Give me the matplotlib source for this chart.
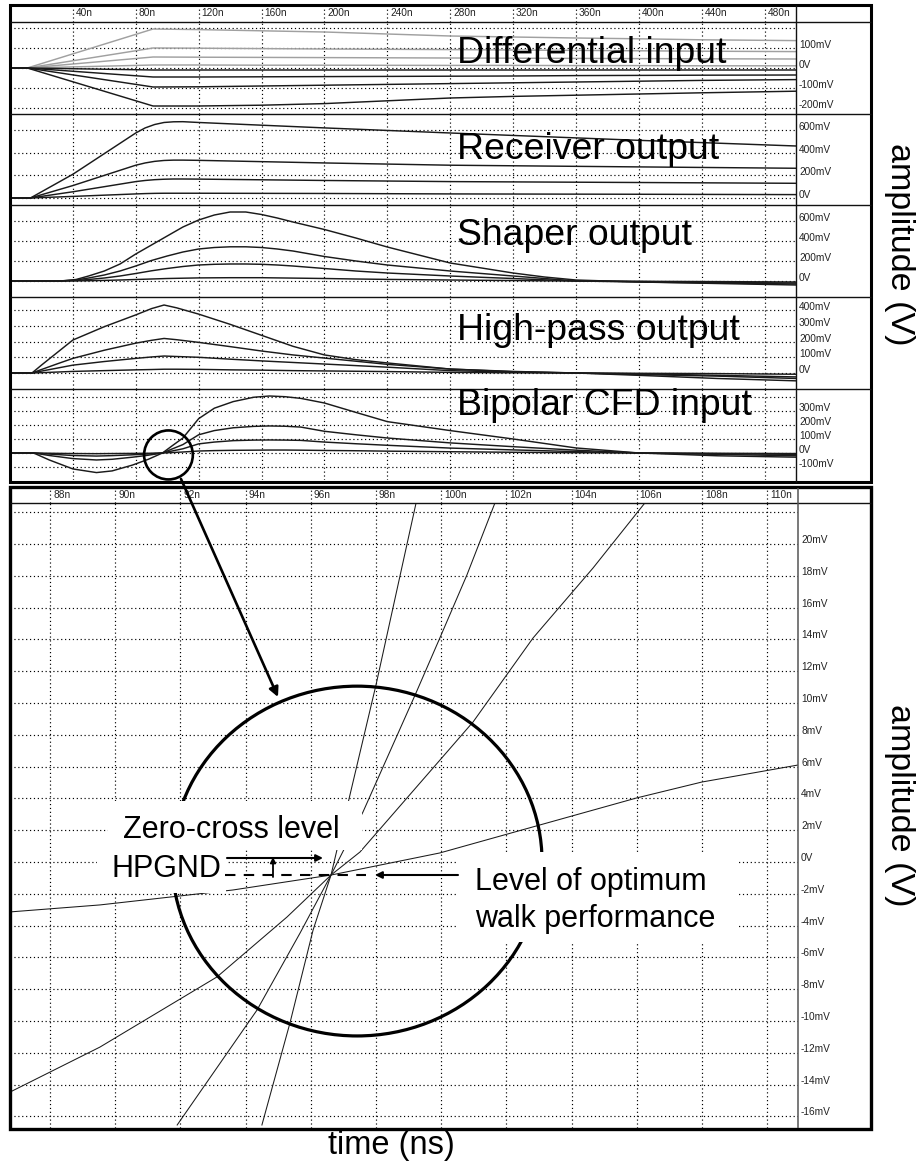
import matplotlib
matplotlib.use('Agg')
import matplotlib.pyplot as plt
from matplotlib.patches import Ellipse, Rectangle, FancyArrowPatch
from matplotlib.lines import Line2D

plt.rcParams['font.family'] = ['Liberation Sans', 'DejaVu Sans']

# ------------------------------------------------------------------ data
# overview (time in ns, amplitude in V)
top_xticks = [40, 80, 120, 160, 200, 240, 280, 320, 360, 400, 440, 480]

diff_t = [0, 11, 91, 120, 160, 200, 280, 320, 360, 400, 440, 500]
diff_pos = [
    [0, 0, 0.195, 0.192, 0.186, 0.180, 0.160, 0.155, 0.150, 0.146, 0.141, 0.137],
    [0, 0, 0.100, 0.099, 0.097, 0.095, 0.092, 0.090, 0.088, 0.086, 0.084, 0.082],
    [0, 0, 0.055, 0.054, 0.053, 0.052, 0.050, 0.049, 0.048, 0.047, 0.046, 0.045],
    [0, 0, 0.015, 0.015, 0.014, 0.014, 0.013, 0.013, 0.012, 0.012, 0.011, 0.011],
]
diff_neg = [
    [0, 0, -0.010, -0.010, -0.010, -0.010, -0.010, -0.010, -0.010, -0.010, -0.010, -0.010],
    [0, 0, -0.045, -0.045, -0.044, -0.043, -0.041, -0.040, -0.038, -0.037, -0.036, -0.035],
    [0, 0, -0.095, -0.094, -0.090, -0.086, -0.078, -0.074, -0.070, -0.066, -0.062, -0.058],
    [0, 0, -0.190, -0.190, -0.186, -0.178, -0.150, -0.142, -0.136, -0.130, -0.124, -0.116],
]

recv_t = [0, 13, 40, 80, 86, 92, 98, 104, 110, 120, 200, 280, 400, 500]
recv = [
    [0, 0, 0.210, 0.575, 0.620, 0.650, 0.668, 0.674, 0.675, 0.668, 0.620, 0.575, 0.510, 0.460],
    [0, 0, 0.110, 0.290, 0.310, 0.324, 0.332, 0.335, 0.335, 0.333, 0.310, 0.290, 0.275, 0.263],
    [0, 0, 0.055, 0.145, 0.155, 0.162, 0.166, 0.168, 0.168, 0.167, 0.155, 0.145, 0.137, 0.130],
    [0, 0, 0.014, 0.036, 0.039, 0.041, 0.042, 0.042, 0.042, 0.042, 0.040, 0.036, 0.033, 0.030],
]

shap_t = [0, 32, 42, 50, 60, 70, 80, 90, 100, 110, 120, 130, 140, 150, 160, 170, 180, 200,
          220, 240, 260, 280, 300, 320, 340, 360, 400, 450, 500]
shap = [
    [0, 0, 0.015, 0.050, 0.100, 0.170, 0.270, 0.360, 0.450, 0.540, 0.610, 0.660, 0.690, 0.690,
     0.665, 0.630, 0.590, 0.515, 0.430, 0.340, 0.260, 0.180, 0.130, 0.080, 0.040, 0.010,
     -0.010, -0.025, -0.040],
    [0, 0, 0.010, 0.030, 0.060, 0.100, 0.150, 0.205, 0.250, 0.290, 0.320, 0.335, 0.342, 0.342,
     0.335, 0.320, 0.300, 0.245, 0.200, 0.160, 0.130, 0.100, 0.075, 0.050, 0.025, 0.000,
     -0.010, -0.020, -0.030],
    [0, 0, 0.005, 0.015, 0.030, 0.050, 0.075, 0.102, 0.125, 0.145, 0.160, 0.167, 0.170, 0.170,
     0.167, 0.160, 0.150, 0.125, 0.100, 0.080, 0.065, 0.050, 0.037, 0.025, 0.012, 0.000,
     -0.005, -0.015, -0.020],
    [0, 0, 0.001, 0.003, 0.006, 0.010, 0.015, 0.020, 0.025, 0.028, 0.031, 0.032, 0.033, 0.033,
     0.033, 0.031, 0.029, 0.025, 0.020, 0.016, 0.013, 0.010, 0.007, 0.005, 0.002, 0.000,
     -0.003, -0.006, -0.010],
]

hp_t = [0, 14, 20, 30, 40, 60, 80, 90, 98, 106, 120, 140, 160, 180, 200, 220, 240, 280,
        320, 360, 400, 450, 500]
hp = [
    [0, 0, 0.050, 0.130, 0.210, 0.295, 0.370, 0.410, 0.433, 0.415, 0.375, 0.310, 0.240,
     0.170, 0.115, 0.085, 0.064, 0.025, 0.008, 0.000, -0.015, -0.035, -0.050],
    [0, 0, 0.022, 0.058, 0.093, 0.145, 0.190, 0.208, 0.220, 0.212, 0.195, 0.168, 0.140,
     0.115, 0.095, 0.075, 0.055, 0.025, 0.010, 0.000, -0.010, -0.020, -0.035],
    [0, 0, 0.012, 0.031, 0.050, 0.073, 0.093, 0.102, 0.108, 0.105, 0.100, 0.088, 0.077,
     0.067, 0.057, 0.047, 0.037, 0.015, 0.005, 0.000, -0.005, -0.015, -0.025],
    [0, 0, 0.002, 0.006, 0.010, 0.015, 0.020, 0.022, 0.024, 0.024, 0.023, 0.020, 0.018,
     0.015, 0.013, 0.011, 0.009, 0.004, 0.001, 0.000, -0.002, -0.004, -0.008],
]

bip_t = [0, 15, 25, 40, 55, 65, 78, 88, 97, 103, 110, 120, 130, 142, 155, 165, 175, 185,
         200, 220, 240, 280, 320, 360, 400, 450, 500]
bip = [
    [0, 0, -0.050, -0.114, -0.140, -0.128, -0.086, -0.045, 0.000, 0.050, 0.107, 0.245,
     0.320, 0.367, 0.398, 0.407, 0.402, 0.390, 0.357, 0.290, 0.224, 0.160, 0.100, 0.036,
     0.000, -0.020, -0.030],
    [0, 0, -0.018, -0.040, -0.050, -0.045, -0.030, -0.016, 0.000, 0.028, 0.060, 0.130,
     0.160, 0.180, 0.190, 0.193, 0.191, 0.185, 0.155, 0.130, 0.107, 0.072, 0.045, 0.020,
     0.000, -0.010, -0.020],
    [0, 0, -0.008, -0.018, -0.022, -0.019, -0.013, -0.007, 0.000, 0.014, 0.030, 0.065,
     0.078, 0.088, 0.092, 0.093, 0.092, 0.090, 0.078, 0.066, 0.055, 0.035, 0.022, 0.010,
     0.000, -0.005, -0.010],
    [0, 0, -0.002, -0.004, -0.005, -0.004, -0.003, -0.002, 0.000, 0.003, 0.007, 0.014,
     0.017, 0.019, 0.020, 0.021, 0.021, 0.020, 0.018, 0.016, 0.013, 0.009, 0.005, 0.002,
     0.000, -0.002, -0.004],
]

# zoomed view (time in ns, amplitude in mV)
zoom_xticks = [88, 90, 92, 94, 96, 98, 100, 102, 104, 106, 108, 110]
zoom_yticks = [-16, -14, -12, -10, -8, -6, -4, -2, 0, 2, 4, 6, 8, 10, 12, 14, 16, 18, 20, 22]
zoom_ylabels = [-16, -14, -12, -10, -8, -6, -4, -2, 0, 2, 4, 6, 8, 10, 12, 14, 16, 18, 20]

zt_a = [86.77, 89.53, 93.61, 96.62, 99.96, 103.03, 106.00, 108.00, 110.95]
zv_a = [-3.14, -2.70, -1.76, -0.82, 0.57, 2.33, 4.03, 5.03, 6.10]
zt_b = [86.77, 89.53, 93.12, 95.27, 96.62, 97.51, 99.75, 100.98, 102.82, 104.66, 106.25]
zv_b = [-14.47, -11.64, -7.23, -3.46, -0.82, 0.63, 5.91, 8.81, 14.09, 18.49, 22.58]
zt_c = [91.90, 94.35, 95.67, 96.62, 97.60, 99.20, 99.96, 100.79, 101.65]
zv_c = [-16.54, -9.31, -4.47, -0.82, 3.14, 10.50, 14.09, 18.05, 22.58]
zt_d = [94.50, 95.36, 96.07, 96.62, 97.18, 98.00, 99.23]
zv_d = [-16.54, -10.13, -4.28, -0.82, 4.03, 11.13, 22.58]

# ------------------------------------------------------------------ figure
W, H = 917, 1163
fig = plt.figure(figsize=(W / 100, H / 100), dpi=100)
fig.patch.set_facecolor('white')

GRID = dict(color='black', linestyle=(0, (1, 2.3)), linewidth=0.85)
TICKFS = 7.3
TCOL = '#222222'


def px_axes(x0, y0, x1, y1, z=1):
    return fig.add_axes([x0 / W, 1 - y1 / H, (x1 - x0) / W, (y1 - y0) / H], zorder=z)


def style(ax, xlim, ylim, xt, yt):
    ax.set_xlim(*xlim)
    ax.set_ylim(*ylim)
    ax.set_xticks(xt)
    ax.set_yticks(yt)
    ax.tick_params(length=0, labelbottom=False, labelleft=False)
    ax.grid(True, **GRID)
    ax.set_axisbelow(True)
    for s in ax.spines.values():
        s.set_visible(False)
    ax.patch.set_alpha(0)


def mv_label(v):
    if abs(v) < 1e-9:
        return '0V'
    return f'{v * 1000:.0f}mV'


def right_labels(ax, vals, texts):
    for v, s in zip(vals, texts):
        ax.annotate(s, xy=(1, v), xycoords=('axes fraction', 'data'), xytext=(3, 3),
                    textcoords='offset pixels', ha='left', va='center',
                    fontsize=TICKFS, color=TCOL, annotation_clip=False)


TOP_XLIM = (0, 500)
# header of the overview
hax = px_axes(10, 5, 796, 22)
style(hax, TOP_XLIM, (0, 1), top_xticks, [])
for t in top_xticks:
    hax.annotate(f'{t}n', xy=(t, 0.5), xycoords=('data', 'axes fraction'), xytext=(3, 0),
                 textcoords='offset pixels', ha='left', va='center', fontsize=TICKFS, color=TCOL)

panels = [
    (22, 114, (-0.23, 0.23), [-0.2, -0.1, 0, 0.1, 0.2], [0.1, 0, -0.1, -0.2]),
    (114, 205, (-0.062, 0.743), [0, 0.2, 0.4, 0.6], [0.6, 0.4, 0.2, 0]),
    (205, 297, (-0.16, 0.76), [0, 0.2, 0.4, 0.6], [0.6, 0.4, 0.2, 0]),
    (297, 389, (-0.102, 0.484), [0, 0.1, 0.2, 0.3, 0.4], [0.4, 0.3, 0.2, 0.1, 0]),
    (389, 480, (-0.193, 0.457), [-0.1, 0, 0.1, 0.2, 0.3, 0.4], [0.3, 0.2, 0.1, 0, -0.1]),
]
axes_top = []
for (y0, y1, yl, grid_v, lab_v) in panels:
    ax = px_axes(10, y0, 796, y1)
    style(ax, TOP_XLIM, yl, top_xticks, grid_v)
    right_labels(ax, lab_v, [mv_label(v) for v in lab_v])
    axes_top.append(ax)

LW = 1.05
for s in diff_pos:
    axes_top[0].plot(diff_t, s, color='#a0a0a0', lw=LW)
for s in diff_neg:
    axes_top[0].plot(diff_t, s, color='#1a1a1a', lw=LW)
for s in recv:
    axes_top[1].plot(recv_t, s, color='#1a1a1a', lw=LW)
for s in shap:
    axes_top[2].plot(shap_t, s, color='#1a1a1a', lw=LW)
for s in hp:
    axes_top[3].plot(hp_t, s, color='#1a1a1a', lw=LW)
for s in bip:
    axes_top[4].plot(bip_t, s, color='#1a1a1a', lw=LW)

# small circle around the zero crossing
axes_top[4].add_patch(Ellipse((100.8, -0.014), 31.0, 0.35, fill=False, ec='black',
                              lw=1.9, clip_on=False, zorder=5))

# zoomed view
ZXLIM = (86.77, 110.95)
ZYLIM = (-16.73, 22.58)
zh = px_axes(10, 488, 798, 503)
style(zh, ZXLIM, (0, 1), zoom_xticks, [])
for t in zoom_xticks:
    zh.annotate(f'{t}n', xy=(t, 0.5), xycoords=('data', 'axes fraction'), xytext=(3, 0),
                textcoords='offset pixels', ha='left', va='center', fontsize=TICKFS, color=TCOL)

zax = px_axes(10, 503, 798, 1128)
style(zax, ZXLIM, ZYLIM, zoom_xticks, zoom_yticks)
for v in zoom_ylabels:
    zax.annotate('0V' if v == 0 else f'{v}mV', xy=(1, v), xycoords=('axes fraction', 'data'),
                 xytext=(3, 4), textcoords='offset pixels', ha='left', va='center',
                 fontsize=TICKFS, color=TCOL, annotation_clip=False)
for tt, vv in [(zt_a, zv_a), (zt_b, zv_b), (zt_c, zv_c), (zt_d, zv_d)]:
    zax.plot(tt, vv, color='#1a1a1a', lw=0.75)
zax.add_patch(Ellipse((97.42, 0.06), 11.35, 22.0, fill=False, ec='black', lw=2.3,
                      clip_on=False, zorder=5))

# ------------------------------------------------------------------ overlay (frames, notes)
ov = fig.add_axes([0, 0, 1, 1], zorder=20)
ov.set_xlim(0, W)
ov.set_ylim(H, 0)
ov.axis('off')
ov.patch.set_alpha(0)


def hline(y, x0, x1, lw=0.9, c='#111111'):
    ov.add_line(Line2D([x0, x1], [y, y], color=c, lw=lw, solid_capstyle='butt'))


def vline(x, y0, y1, lw=0.9, c='#111111'):
    ov.add_line(Line2D([x, x], [y0, y1], color=c, lw=lw, solid_capstyle='butt'))


# frames
ov.add_patch(Rectangle((9.5, 4.5), 861.5, 477.5, fill=False, ec='black', lw=2.2, zorder=2))
for y in [22, 114, 205, 297, 389]:
    hline(y, 10, 871, lw=1.0)
vline(796, 5, 482, lw=1.0)
ov.add_patch(Rectangle((9.5, 487), 861.5, 642, fill=False, ec='black', lw=2.4, zorder=2))
hline(503, 10, 871, lw=1.0)
vline(798, 488, 1128, lw=1.1, c='#555555')

# white masks behind annotation text
for (x0, y0, x1, y1) in [(108, 801, 362, 850), (97, 850, 226, 893), (458, 852, 737, 942)]:
    ov.add_patch(Rectangle((x0, y0), x1 - x0, y1 - y0, fc='white', ec='none', zorder=1))

TITLE_FS = 26.9
for txt, yb in [('Differential input', 63), ('Receiver output', 159), ('Shaper output', 245),
                ('High-pass output', 340), ('Bipolar CFD input', 415)]:
    ov.text(457, yb, txt, fontsize=TITLE_FS, ha='left', va='baseline', color='black', zorder=4)

NOTE_FS = 22
ov.text(123, 838, 'Zero-cross level', fontsize=NOTE_FS, ha='left', va='baseline', zorder=4)
ov.text(112, 877, 'HPGND', fontsize=NOTE_FS, ha='left', va='baseline', zorder=4)
ov.text(475, 890, 'Level of optimum', fontsize=NOTE_FS, ha='left', va='baseline', zorder=4)
ov.text(475, 927, 'walk performance', fontsize=NOTE_FS, ha='left', va='baseline', zorder=4)

ov.text(391, 1154, 'time (ns)', fontsize=23.5, ha='center', va='baseline', zorder=4)
ov.text(899, 244, 'amplitude (V)', fontsize=24.5, rotation=270, ha='center', va='center', zorder=4)
ov.text(899, 805, 'amplitude (V)', fontsize=24.5, rotation=270, ha='center', va='center', zorder=4)


# arrows and dashed level line
def arrow(p0, p1, lw=1.6, ms=12):
    ov.add_patch(FancyArrowPatch(p0, p1, arrowstyle='-|>', mutation_scale=ms, color='black',
                                 lw=lw, shrinkA=0, shrinkB=0, zorder=3))


arrow((181, 479), (278, 697), lw=1.9, ms=14)
arrow((227, 858), (323, 858), lw=1.5, ms=10)
arrow((273, 877), (273, 857), lw=1.3, ms=8)
arrow((458, 875), (375, 875), lw=1.5, ms=10)
ov.add_line(Line2D([225, 366], [875, 875], color='black', lw=1.5, linestyle=(0, (5, 4)), zorder=3))

fig.savefig('out.png', dpi=100, facecolor='white')
